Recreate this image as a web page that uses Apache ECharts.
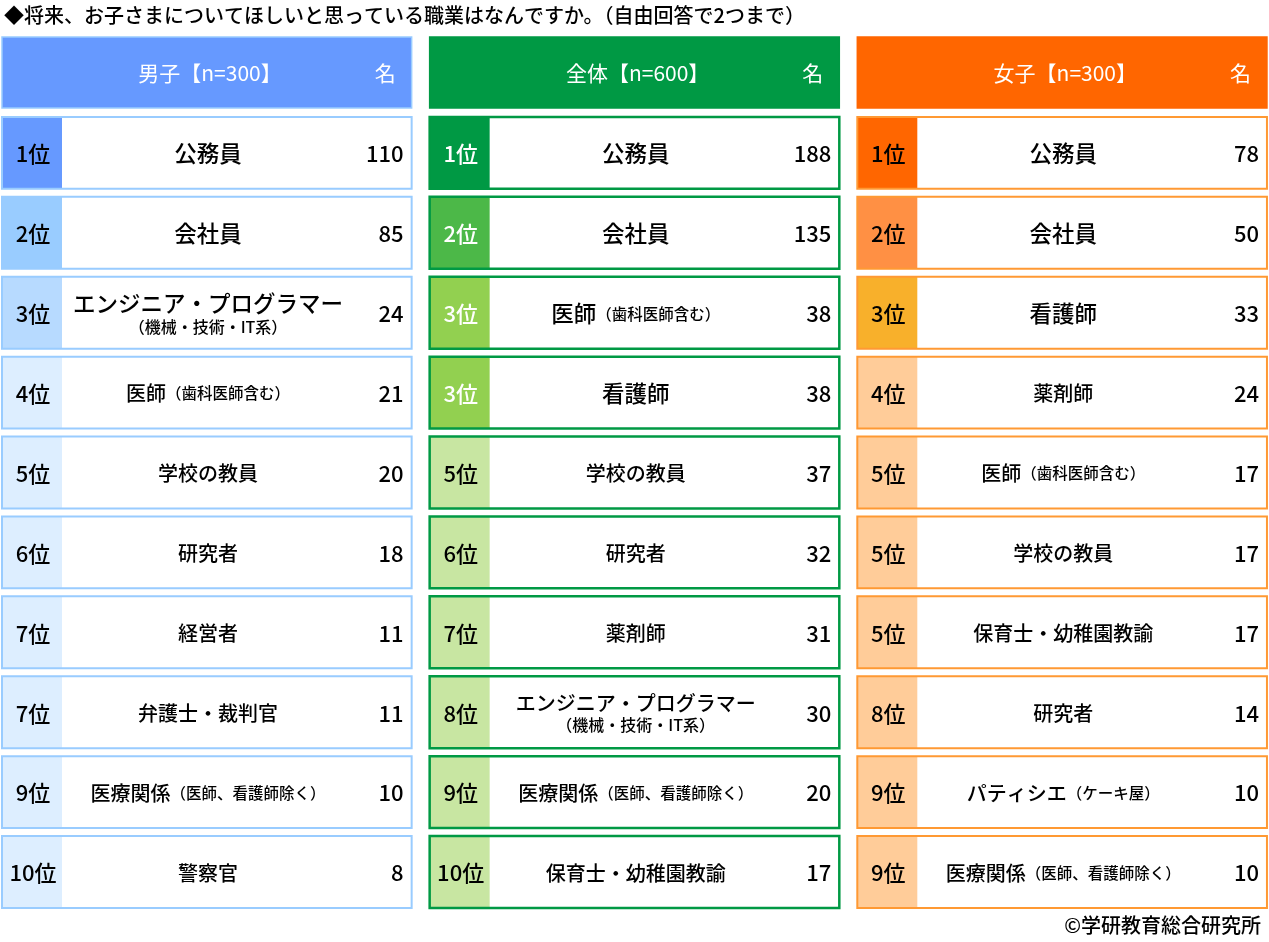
<!DOCTYPE html>
<html>
<head>
<meta charset="utf-8">
<title>将来、お子さまについてほしいと思っている職業</title>
<script src="https://cdn.jsdelivr.net/npm/echarts@6/dist/echarts.min.js"></script>
<style>
  html, body { margin: 0; padding: 0; background: #fff; }
  #main { width: 1269px; height: 942px; }
</style>
</head>
<body>
<div id="main"></div>
<script>
// 列の見出し
var groups = ['男子【n=300】', '全体【n=600】', '女子【n=300】'];
var rowKeys = ['head', '1', '2', '3', '4', '5', '6', '7', '8', '9', '10'];

// 男子
var boysRanks = ['1位', '2位', '3位', '4位', '5位', '6位', '7位', '7位', '9位', '10位'];
var boysJobs = ['公務員', '会社員', 'エンジニア・プログラマー（機械・技術・IT系）', '医師（歯科医師含む）', '学校の教員',
  '研究者', '経営者', '弁護士・裁判官', '医療関係（医師、看護師除く）', '警察官'];
var boysValues = [110, 85, 24, 21, 20, 18, 11, 11, 10, 8];

// 全体
var allRanks = ['1位', '2位', '3位', '3位', '5位', '6位', '7位', '8位', '9位', '10位'];
var allJobs = ['公務員', '会社員', '医師（歯科医師含む）', '看護師', '学校の教員', '研究者', '薬剤師',
  'エンジニア・プログラマー（機械・技術・IT系）', '医療関係（医師、看護師除く）', '保育士・幼稚園教諭'];
var allValues = [188, 135, 38, 38, 37, 32, 31, 30, 20, 17];

// 女子
var girlsRanks = ['1位', '2位', '3位', '4位', '5位', '5位', '5位', '8位', '9位', '9位'];
var girlsJobs = ['公務員', '会社員', '看護師', '薬剤師', '医師（歯科医師含む）', '学校の教員', '保育士・幼稚園教諭',
  '研究者', 'パティシエ（ケーキ屋）', '医療関係（医師、看護師除く）'];
var girlsValues = [78, 50, 33, 24, 17, 17, 17, 14, 10, 10];

var FONT = '"Noto Sans CJK JP", "Noto Sans", sans-serif';

// 列ごとの色（順位 1, 2, 3, 4位以下）
var colStyles = [
  { head: '#6699FF', headBorder: '#99CCFF', border: '#99CCFF', lw: 2,
    rank: ['#6699FF', '#99CCFF', '#B7DAFF', '#DDEEFF'], rankText: ['#000', '#000', '#000', '#000'] },
  { head: '#009944', headBorder: '#009944', border: '#009944', lw: 2.5,
    rank: ['#009944', '#4CB848', '#92D050', '#C8E6A2'], rankText: ['#fff', '#fff', '#fff', '#000'] },
  { head: '#FF6600', headBorder: '#FF6600', border: '#FF9933', lw: 2,
    rank: ['#FF6600', '#FF9044', '#F8B02B', '#FFCC99'], rankText: ['#000', '#000', '#000', '#000'] }
];

var tables = [
  { ranks: boysRanks, jobs: boysJobs, values: boysValues },
  { ranks: allRanks, jobs: allJobs, values: allValues },
  { ranks: girlsRanks, jobs: girlsJobs, values: girlsValues }
];

function nameText(name) {
  var p = name.indexOf('（');
  if (p < 0) return '{m|' + name + '}';
  var main = name.slice(0, p), sub = name.slice(p);
  // 長い名前は括弧を2行目へ
  if (main.length > 8) return '{m|' + main + '}\n{s2|' + sub + '}';
  return '{m|' + main + '}{s|' + sub + '}';
}

var GAP = 18;

function makeRender(col) {
  var st = colStyles[col];
  var tb = tables[col];
  return function (params, api) {
    var row = api.value(1);
    var c = api.coord([api.value(0), row]);
    var pitch = api.size([1, 0])[0];
    var bh = api.size([0, 1])[1];
    var w = pitch - GAP, h = bh - 8;
    var x0 = c[0], y0 = c[1] - bh / 2;
    var cy = y0 + h / 2;

    if (row === 0) {
      return {
        type: 'group',
        children: [
          { type: 'rect', shape: { x: x0, y: y0, width: w, height: h - 1 },
            style: { fill: st.head, stroke: st.headBorder, lineWidth: 1.5 } },
          { type: 'text', style: { text: groups[col], x: x0 + 208, y: cy, align: 'center', verticalAlign: 'middle',
            font: 'normal 21px ' + FONT, fill: '#fff' } },
          { type: 'text', style: { text: '名', x: x0 + w - 16, y: cy, align: 'right', verticalAlign: 'middle',
            font: 'normal 21px ' + FONT, fill: '#fff' } }
        ]
      };
    }

    var i = row - 1;
    var rankNum = parseInt(tb.ranks[i], 10);
    var tier = Math.min(rankNum, 4) - 1;
    var mSize = rankNum <= 3 ? 22.5 : 20;

    return {
      type: 'group',
      children: [
        { type: 'rect', shape: { x: x0, y: y0, width: w, height: h }, style: { fill: '#fff' } },
        { type: 'rect', shape: { x: x0, y: y0, width: 60, height: h }, style: { fill: st.rank[tier] } },
        { type: 'rect', shape: { x: x0, y: y0, width: w, height: h },
          style: { fill: null, stroke: st.border, lineWidth: st.lw } },
        { type: 'text', style: { text: tb.ranks[i], x: x0 + 31, y: cy + 1, align: 'center', verticalAlign: 'middle',
          font: '500 22px ' + FONT, fill: st.rankText[tier] } },
        { type: 'text', style: {
          text: nameText(tb.jobs[i]), x: x0 + 206, y: cy + 1, align: 'center', verticalAlign: 'middle',
          fill: '#000',
          rich: {
            m: { fontSize: mSize, fontFamily: FONT, fontWeight: 500, fill: '#000', lineHeight: mSize + 4 },
            s: { fontSize: 15.5, fontFamily: FONT, fontWeight: 500, fill: '#000', lineHeight: 20 },
            s2: { fontSize: 16, fontFamily: FONT, fontWeight: 500, fill: '#000', lineHeight: 20 }
          }
        } },
        { type: 'text', style: { text: String(tb.values[i]), x: x0 + w - 8, y: cy + 1, align: 'right', verticalAlign: 'middle',
          font: '500 22px ' + FONT, fill: '#000' } }
      ]
    };
  };
}

var myChart = echarts.init(document.getElementById('main'));

var series = [];
for (var col = 0; col < 3; col++) {
  var data = [];
  for (var r = 0; r < rowKeys.length; r++) data.push([col, r]);
  series.push({
    type: 'custom',
    renderItem: makeRender(col),
    data: data,
    silent: true
  });
}

var option = {
  animation: false,
  title: [
    { text: '◆将来、お子さまについてほしいと思っている職業はなんですか。（自由回答で2つまで）',
      left: 4, top: 5, padding: 0,
      textStyle: { fontFamily: FONT, fontSize: 20, fontWeight: 500, color: '#000' } },
    { text: '©学研教育総合研究所', right: 8, bottom: 7, padding: 0,
      textStyle: { fontFamily: FONT, fontSize: 20, fontWeight: 500, color: '#000' } }
  ],
  grid: { left: 2, right: 2, top: 37, bottom: 26 },
  // 列の左端を値 0, 1, 2 に置き、最後の列の右端で軸を終える
  xAxis: { type: 'value', min: 0, max: 2.958, show: false },
  yAxis: { type: 'category', data: rowKeys, inverse: true, show: false },
  series: series
};

myChart.setOption(option);
</script>
</body>
</html>
